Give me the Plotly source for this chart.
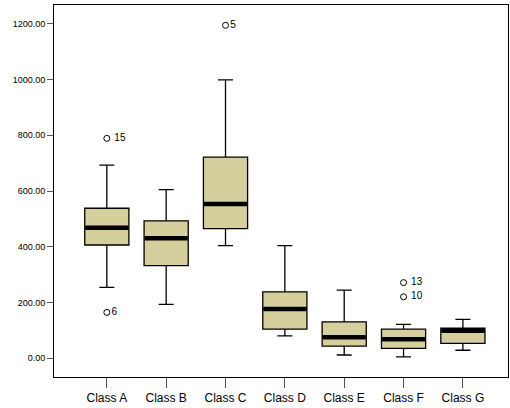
import plotly.graph_objects as go

categories = ["Class A", "Class B", "Class C", "Class D", "Class E", "Class F", "Class G"]
lower_whisker = [254, 193, 404, 80, 11, 4, 28]
q1_vals = [406, 332, 465, 104, 43, 35, 53]
medians = [468, 430, 553, 176, 75, 68, 98]
q3_vals = [538, 493, 722, 238, 130, 104, 107]
upper_whisker = [693, 605, 999, 404, 244, 121, 139]

outlier_cat = ["Class A", "Class A", "Class C", "Class F", "Class F"]
outlier_val = [789, 164, 1195, 271, 220]
outlier_lab = ["\u00a015", "6", "5", "\u00a013", "\u00a010"]

y_ticks = [0, 200, 400, 600, 800, 1000, 1200]
y_tick_labels = ["0.00", "200.00", "400.00", "600.00", "800.00", "1000.00", "1200.00"]

fill = "#D4CF9C"
xs = list(range(len(categories)))
half = 0.372

fig = go.Figure()
fig.add_trace(go.Box(
    x=xs, q1=q1_vals, median=medians, q3=q3_vals,
    lowerfence=lower_whisker, upperfence=upper_whisker,
    fillcolor=fill, line=dict(color="black", width=1.3),
    width=2 * half, whiskerwidth=0.34, boxpoints=False,
    hoverinfo="skip", showlegend=False,
))

mx, my = [], []
for i, m in zip(xs, medians):
    mx += [i - half + 0.01, i + half - 0.01, None]
    my += [m, m, None]
fig.add_trace(go.Scatter(x=mx, y=my, mode="lines",
                         line=dict(color="black", width=4.5),
                         showlegend=False, hoverinfo="skip"))

ox = [categories.index(c) for c in outlier_cat]
fig.add_trace(go.Scatter(
    x=ox, y=outlier_val, mode="markers+text", text=outlier_lab,
    textposition="middle right",
    textfont=dict(family="Liberation Sans, Arial", size=10, color="black"),
    marker=dict(symbol="circle-open", size=6, color="black", line=dict(width=1)),
    showlegend=False, hoverinfo="skip",
))

fig.update_layout(
    width=510, height=408,
    margin=dict(l=54, r=2, t=5, b=31),
    paper_bgcolor="white", plot_bgcolor="white",
    font=dict(family="Liberation Sans, Arial", color="black"),
)
fig.update_xaxes(
    range=[-0.89, 6.76], tickmode="array", tickvals=xs, ticktext=categories,
    showgrid=False, zeroline=False, showline=True, linecolor="black", linewidth=1,
    mirror=True, ticks="outside", ticklen=10, tickcolor="#555", tickwidth=1,
    tickfont=dict(size=12),
)
fig.update_yaxes(
    range=[-68, 1268], tickmode="array", tickvals=y_ticks, ticktext=y_tick_labels,
    showgrid=False, zeroline=False, showline=True, linecolor="black", linewidth=1,
    mirror=True, ticks="outside", ticklen=6, tickcolor="#555", tickwidth=1,
    tickfont=dict(size=9),
)

fig.write_html("out.html", config={"displayModeBar": False},
               post_script="document.body.style.margin='0';document.body.style.overflow='hidden';")
